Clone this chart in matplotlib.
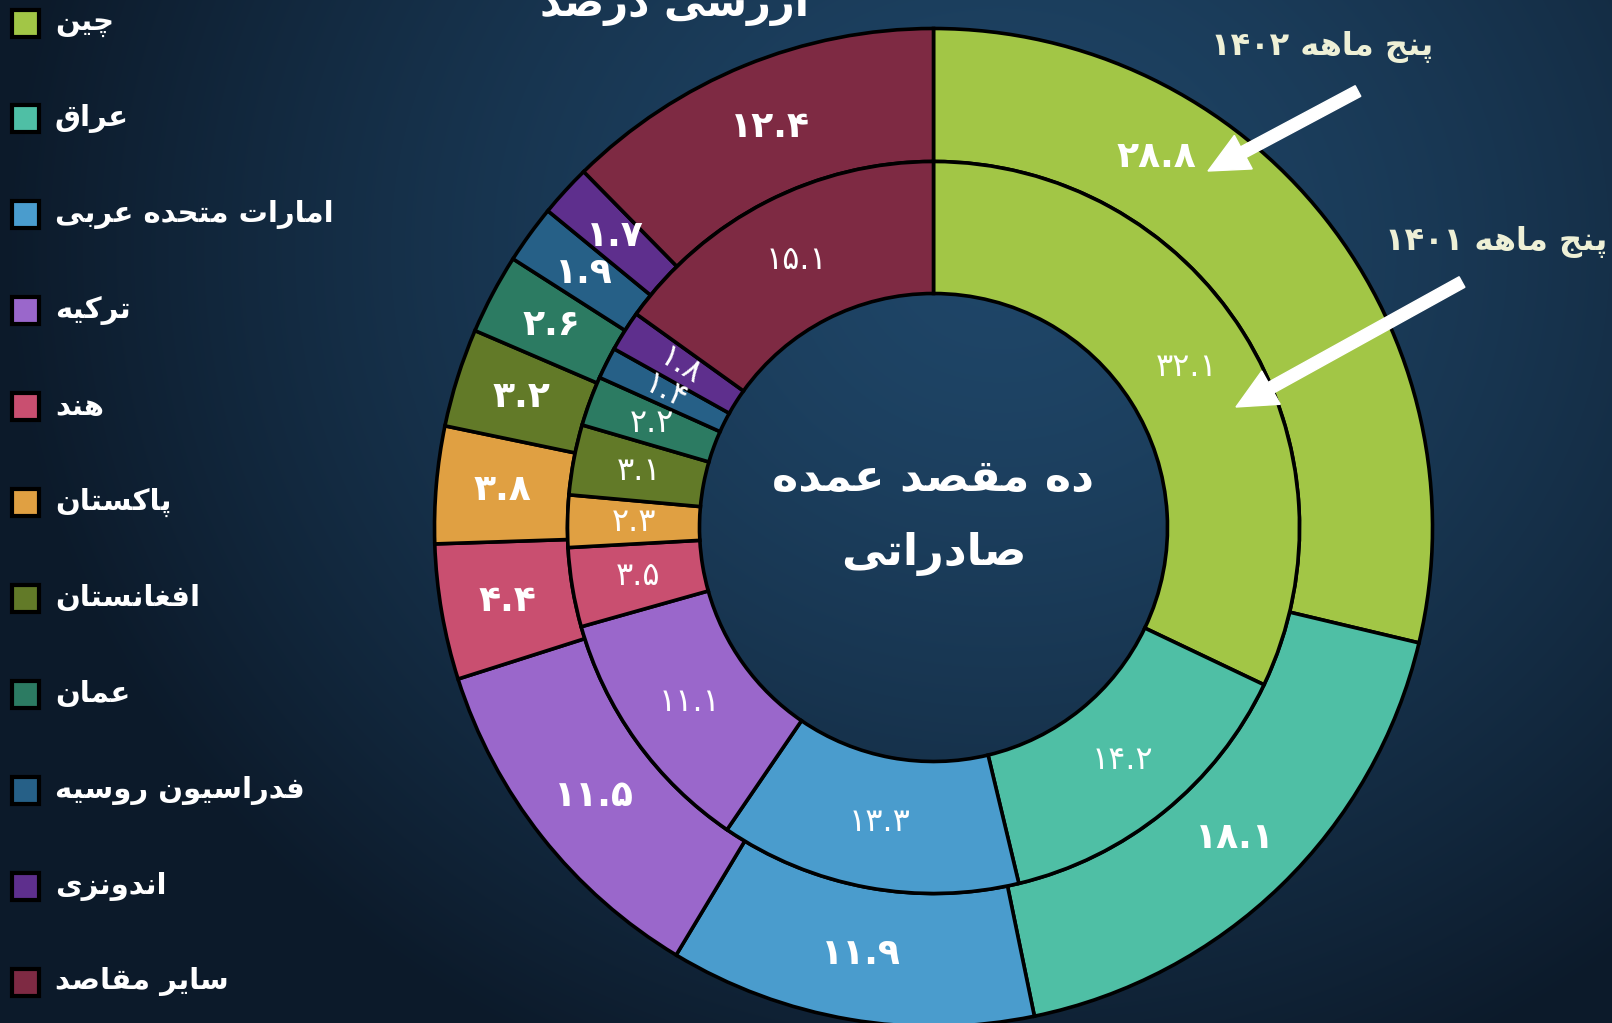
import re
import numpy as np
import matplotlib
matplotlib.use('Agg')
import matplotlib.pyplot as plt
from matplotlib.patches import Rectangle, FancyArrow

plt.rcParams['font.family'] = ['DejaVu Sans']

# data
countries = ['چین', 'عراق', 'امارات متحده عربی', 'ترکیه', 'هند', 'پاکستان',
             'افغانستان', 'عمان', 'فدراسیون روسیه', 'اندونزی', 'سایر مقاصد']
share_1402 = [28.8, 18.1, 11.9, 11.5, 4.4, 3.8, 3.2, 2.6, 1.9, 1.7, 12.4]
share_1401 = [32.1, 14.2, 13.3, 11.1, 3.5, 2.3, 3.1, 2.2, 1.4, 1.8, 15.1]
years = ['1402', '1401']
colors = ['#a2c646', '#4fbfa5', '#4a9ccd', '#9a67cb', '#c94f70', '#e0a042',
          '#627a28', '#2c7b62', '#266087', '#5e2f8d', '#7e2a43']

W, H = 1612, 1023

# persian shaping (matplotlib has no complex text layout)
FORMS = {
    '\u0622': (0xFE81, 2), '\u0627': (0xFE8D, 2), '\u0628': (0xFE8F, 4),
    '\u067E': (0xFB56, 4), '\u062A': (0xFE95, 4), '\u062B': (0xFE99, 4),
    '\u062C': (0xFE9D, 4), '\u0686': (0xFB7A, 4), '\u062D': (0xFEA1, 4),
    '\u062E': (0xFEA5, 4), '\u062F': (0xFEA9, 2), '\u0630': (0xFEAB, 2),
    '\u0631': (0xFEAD, 2), '\u0632': (0xFEAF, 2), '\u0698': (0xFB8A, 2),
    '\u0633': (0xFEB1, 4), '\u0634': (0xFEB5, 4), '\u0635': (0xFEB9, 4),
    '\u0636': (0xFEBD, 4), '\u0637': (0xFEC1, 4), '\u0638': (0xFEC5, 4),
    '\u0639': (0xFEC9, 4), '\u063A': (0xFECD, 4), '\u0641': (0xFED1, 4),
    '\u0642': (0xFED5, 4), '\u0643': (0xFED9, 4), '\u06A9': (0xFB8E, 4),
    '\u06AF': (0xFB92, 4), '\u0644': (0xFEDD, 4), '\u0645': (0xFEE1, 4),
    '\u0646': (0xFEE5, 4), '\u0647': (0xFEE9, 4), '\u0648': (0xFEED, 2),
    '\u064A': (0xFEF1, 4), '\u06CC': (0xFBFC, 4),
}
FA = str.maketrans('0123456789', '۰۱۲۳۴۵۶۷۸۹')


def rtl(text):
    out = []
    for i, ch in enumerate(text):
        if ch not in FORMS:
            out.append(ch)
            continue
        base, n = FORMS[ch]
        prev = text[i - 1] if i else ''
        nxt = text[i + 1] if i + 1 < len(text) else ''
        jp = prev in FORMS and FORMS[prev][1] == 4
        jn = nxt in FORMS and n == 4
        k = 3 if (jp and jn) else 1 if jp else 2 if jn else 0
        out.append(chr(base + k))
    s = ''.join(out)[::-1]
    return re.sub('[0-9\u06F0-\u06F9.]+', lambda m: m.group(0)[::-1], s)


def Y(y):
    return H - y


fig = plt.figure(figsize=(W / 100, H / 100), dpi=100)
ax = fig.add_axes([0, 0, 1, 1])

# background
gx, gy = np.meshgrid(np.arange(W), np.arange(H))
d = np.sqrt(((gx - 1000) / 1000.0) ** 2 + ((gy - 250) / 900.0) ** 2)
t = np.clip(d, 0, 1) ** 1.4
c_in = np.array([31, 70, 104]) / 255
c_out = np.array([12, 26, 42]) / 255
bg = c_in * (1 - t[..., None]) + c_out * t[..., None]
ax.imshow(bg, extent=(0, W, 0, H), origin='upper', zorder=0)

cx, cy = 933.5, Y(527.5)
r_out, r_mid, r_in = 499, 366, 234

wp = dict(edgecolor='black', linewidth=2.6)
outer, _ = ax.pie(share_1402, radius=r_out, center=(cx, cy), startangle=90,
                  counterclock=False, colors=colors,
                  wedgeprops=dict(width=r_out - r_mid, **wp))
inner, _ = ax.pie(share_1401, radius=r_mid, center=(cx, cy), startangle=90,
                  counterclock=False, colors=colors,
                  wedgeprops=dict(width=r_mid - r_in, **wp))

for i, (w, v) in enumerate(zip(outer, share_1402)):
    f = 0.3 if i == 0 else 0.5
    a = np.radians(w.theta2 - f * (w.theta2 - w.theta1))
    r = (r_out + r_mid) / 2
    ax.text(cx + r * np.cos(a), cy + r * np.sin(a), str(v).translate(FA),
            color='white', fontsize=26, fontweight='bold',
            ha='center', va='center')

for i, (w, v) in enumerate(zip(inner, share_1401)):
    am = (w.theta1 + w.theta2) / 2
    a = np.radians(am)
    r = (r_mid + r_in) / 2
    rot = am - 180 if v < 2 else 0
    ax.text(cx + r * np.cos(a), cy + r * np.sin(a), str(v).translate(FA),
            color='white', fontsize=23, rotation=rot,
            ha='center', va='center')

# center title
ax.text(cx, Y(478), rtl('ده مقصد عمده'), color='white', fontsize=32,
        fontweight='bold', ha='center', va='center')
ax.text(cx, Y(554), rtl('صادراتی'), color='white', fontsize=32,
        fontweight='bold', ha='center', va='center')

# cropped top title
ax.text(674, Y(16), rtl('ارزشی درصد'), color='white', fontsize=30,
        fontweight='bold', ha='center', va='baseline')

# legend
for i, (name, c) in enumerate(zip(countries, colors)):
    yc = Y(23 + i * 95.9)
    ax.add_patch(Rectangle((12, yc - 13.5), 27, 27, facecolor=c,
                           edgecolor='black', linewidth=3, zorder=3))
    ax.text(55, yc, rtl(name), color='white', fontsize=21,
            fontweight='bold', ha='left', va='center')

# arrows and series notes
cream = '#eef0d6'
ax.text(1322, Y(47), rtl('پنج ماهه ' + years[0].translate(FA)), color=cream,
        fontsize=23, fontweight='bold', ha='center', va='center')
ax.text(1496, Y(242), rtl('پنج ماهه ' + years[1].translate(FA)), color=cream,
        fontsize=23, fontweight='bold', ha='center', va='center')
for (x0, y0), (x1, y1) in [((1358, 91), (1208, 171)), ((1462, 282), (1236, 407))]:
    ax.add_patch(FancyArrow(x0, Y(y0), x1 - x0, Y(y1) - Y(y0), width=12,
                            head_width=38, head_length=40,
                            length_includes_head=True, color='white',
                            zorder=5))

ax.set_xlim(0, W)
ax.set_ylim(0, H)
ax.set_aspect('auto')
ax.axis('off')
fig.savefig('out.png', dpi=100)
